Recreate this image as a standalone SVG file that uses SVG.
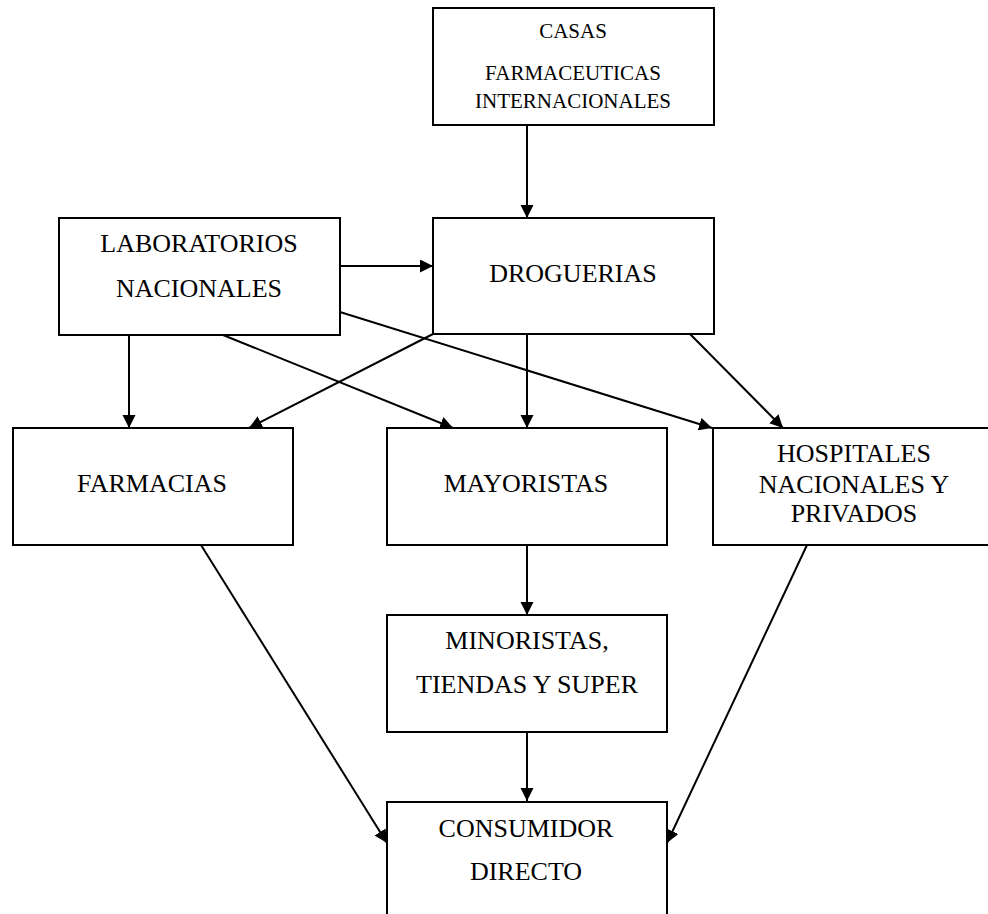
<svg xmlns="http://www.w3.org/2000/svg" width="988" height="914" viewBox="0 0 988 914">
  <style>
    .box { fill: #ffffff; stroke: #000000; stroke-width: 2; }
    .lbl { font-family: "Liberation Serif", "Times New Roman", serif; font-size: 26px; fill: #000000; text-anchor: middle; }
    .sm { font-size: 21px; }
    .edge { fill: none; stroke: #000000; stroke-width: 2; marker-end: url(#arrow); }
  </style>
  <defs>
    <marker id="arrow" markerUnits="userSpaceOnUse" markerWidth="14" markerHeight="14" refX="13" refY="6.5" orient="auto">
      <path d="M0,0 L13,6.5 L0,13 z" fill="#000000"/>
    </marker>
  </defs>
  <rect width="988" height="914" fill="#ffffff"/>

  <!-- connectors -->
  <g id="connectors">
    <line class="edge" x1="527" y1="125" x2="527" y2="218"/>
    <line class="edge" x1="340" y1="266" x2="433" y2="266"/>
    <line class="edge" x1="129" y1="335" x2="129" y2="428"/>
    <line class="edge" x1="223" y1="335" x2="453" y2="428"/>
    <line class="edge" x1="340" y1="312" x2="712" y2="428"/>
    <line class="edge" x1="433" y1="334" x2="249" y2="428"/>
    <line class="edge" x1="527" y1="334" x2="527" y2="428"/>
    <line class="edge" x1="690" y1="334" x2="783" y2="428"/>
    <line class="edge" x1="527" y1="545" x2="527" y2="615"/>
    <line class="edge" x1="527" y1="732" x2="527" y2="801"/>
    <line class="edge" x1="201" y1="545" x2="387" y2="843"/>
    <line class="edge" x1="807" y1="545" x2="667" y2="843"/>
  </g>

  <g id="casas">
    <rect class="box" x="433" y="8" width="281" height="117"/>
    <text class="lbl sm" x="573" y="38">CASAS</text>
    <text class="lbl sm" x="573" y="80">FARMACEUTICAS</text>
    <text class="lbl sm" x="573" y="108">INTERNACIONALES</text>
  </g>

  <g id="laboratorios">
    <rect class="box" x="59" y="218" width="281" height="117"/>
    <text class="lbl" x="199" y="252">LABORATORIOS</text>
    <text class="lbl" x="199" y="297">NACIONALES</text>
  </g>

  <g id="droguerias">
    <rect class="box" x="433" y="218" width="281" height="116"/>
    <text class="lbl" x="573" y="282">DROGUERIAS</text>
  </g>

  <g id="farmacias">
    <rect class="box" x="13" y="428" width="280" height="117"/>
    <text class="lbl" x="152" y="492">FARMACIAS</text>
  </g>

  <g id="mayoristas">
    <rect class="box" x="387" y="428" width="280" height="117"/>
    <text class="lbl" x="526" y="492">MAYORISTAS</text>
  </g>

  <g id="hospitales">
    <rect class="box" x="713" y="428" width="290" height="117"/>
    <text class="lbl" x="854" y="462">HOSPITALES</text>
    <text class="lbl" x="854" y="493">NACIONALES Y</text>
    <text class="lbl" x="854" y="522">PRIVADOS</text>
  </g>

  <g id="minoristas">
    <rect class="box" x="387" y="615" width="280" height="117"/>
    <text class="lbl" x="527" y="649">MINORISTAS,</text>
    <text class="lbl" x="527" y="693">TIENDAS Y SUPER</text>
  </g>

  <g id="consumidor">
    <rect class="box" x="387" y="802" width="280" height="130"/>
    <text class="lbl" x="526" y="837">CONSUMIDOR</text>
    <text class="lbl" x="526" y="880">DIRECTO</text>
  </g>
</svg>
